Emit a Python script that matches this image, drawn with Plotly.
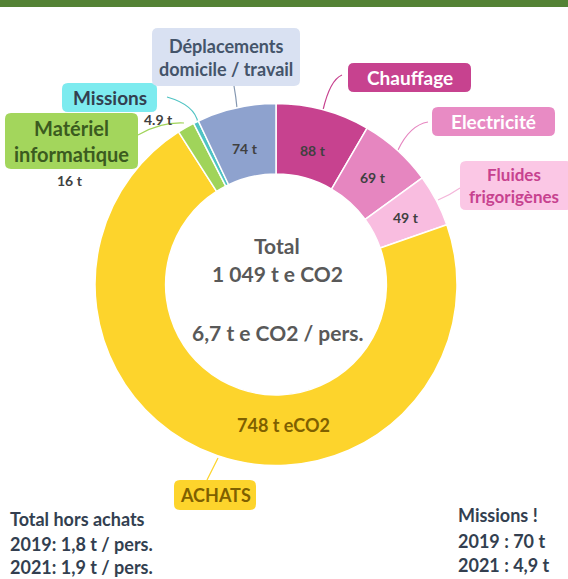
import plotly.graph_objects as go

W, H = 568, 579

# ---- data ----
categories = ["Chauffage", "Electricité", "Fluides frigorigènes", "Achats",
              "Matériel informatique", "Missions", "Déplacements domicile / travail"]
values = [88, 69, 49, 748, 16, 4.9, 74]
value_labels = ["88 t", "69 t", "49 t", "748 t eCO2", "16 t", "4.9 t", "74 t"]
callout_labels = ["Chauffage", "Electricité", "Fluides<br>frigorigènes", "ACHATS",
                  "Matériel<br>informatique", "Missions", "Déplacements<br>domicile / travail"]
center_lines = ["Total", "1 049 t e CO2", "6,7 t e CO2 / pers."]
left_note = ["Total hors achats", "2019: 1,8 t / pers.", "2021: 1,9 t / pers."]
right_note = ["Missions !", "2019 : 70 t", "2021 : 4,9 t"]

# ---- styles ----
slice_colors = ["#C7428F", "#E686C0", "#F9BDE0", "#FDD42C", "#A0D45A", "#4FC3C3", "#8EA2CE"]
box_fill = ["#C7428F", "#E88BC4", "#FBC7E5", "#FDD42C", "#A3D65C", "#7DEBEF", "#D9E1F2"]
box_text = ["#FFFFFF", "#FFFFFF", "#C7428F", "#7F6000", "#3B5B1F", "#333F50", "#44546A"]
box_font = [19, 19, 17, 18, 20, 19, 18]
line_col = ["#C7428F", "#E686C0", "#F4B6DA", "#FDD42C", "#A0D45A", "#4FC3C3", "#8497B0"]
value_text_col = ["#404040", "#404040", "#404040", "#7F6000", "#404040", "#404040", "#404040"]
value_font = [14, 14, 14, 18, 14, 14, 14]
FONT = "Lato"

def px(x):
    return x / W

def py(y):
    return 1 - y / H

def P(x, y):
    return f"{px(x):.5f},{py(y):.5f}"

def rounded_rect(x0, y0, x1, y1, r=6):
    return (f"M {P(x0 + r, y0)} L {P(x1 - r, y0)} Q {P(x1, y0)} {P(x1, y0 + r)} "
            f"L {P(x1, y1 - r)} Q {P(x1, y1)} {P(x1 - r, y1)} L {P(x0 + r, y1)} "
            f"Q {P(x0, y1)} {P(x0, y1 - r)} L {P(x0, y0 + r)} Q {P(x0, y0)} {P(x0 + r, y0)} Z")

cx, cy, R = 276, 284.5, 181
fig = go.Figure(go.Pie(
    labels=categories, values=values, sort=False, direction="clockwise", rotation=0,
    hole=0.61, textinfo="none", hoverinfo="label+value",
    marker=dict(colors=slice_colors, line=dict(color="white", width=1.5)),
    domain=dict(x=[px(cx - R), px(cx + R)], y=[py(cy + R), py(cy - R)]),
    showlegend=False,
))

shapes = []
annotations = []

# top green band
shapes.append(dict(type="rect", xref="paper", yref="paper", x0=0, x1=1, y0=py(7), y1=1,
                   fillcolor="#548235", line=dict(width=0), layer="above"))

# callout boxes (x0, y0, x1, y1) in pixels, and leader curves
boxes = [(348, 63, 471, 92), (432, 107, 555, 136), (460, 161, 572, 210), (174, 480, 256, 510),
         (5, 113, 138, 169), (62, 83, 157, 112), (152, 28, 300, 86)]
leaders = [((342, 75), (330, 80), (323, 110)),
           ((428, 122), (410, 125), (398, 150)),
           ((460, 188), (450, 195), (438, 200)),
           ((207, 480), (212, 470), (218, 458)),
           ((138, 135), (160, 122), (184, 123)),
           ((167, 97), (195, 105), (198, 123)),
           ((234, 86), (236, 97), (237, 108))]
for i in range(len(categories)):
    x0, y0, x1, y1 = boxes[i]
    shapes.append(dict(type="path", xref="paper", yref="paper", path=rounded_rect(x0, y0, x1, y1),
                       fillcolor=box_fill[i], line=dict(width=0), layer="above"))
    a, c, b = leaders[i]
    shapes.append(dict(type="path", xref="paper", yref="paper",
                       path=f"M {P(*a)} Q {P(*c)} {P(*b)}",
                       line=dict(color=line_col[i], width=1.2), layer="below"))
    annotations.append(dict(xref="paper", yref="paper", x=px((x0 + x1) / 2 if i != 2 else 514),
                            y=py((y0 + y1) / 2), text=callout_labels[i], showarrow=False,
                            xanchor="center", yanchor="middle", align="center",
                            font=dict(family=FONT, size=box_font[i], color=box_text[i],
                                      weight="bold")))

# value labels
value_pos = [(313, 150), (373, 177), (406, 218), (283, 425), (70, 180), (158, 119), (245, 148)]
for i, (x, y) in enumerate(value_pos):
    annotations.append(dict(xref="paper", yref="paper", x=px(x), y=py(y), text=value_labels[i],
                            showarrow=False, xanchor="center", yanchor="middle",
                            font=dict(family=FONT, size=value_font[i],
                                      color=value_text_col[i], weight="bold")))

# center text
for txt, y in zip(center_lines, [245, 273, 332]):
    annotations.append(dict(xref="paper", yref="paper", x=px(277), y=py(y), text=txt,
                            showarrow=False, xanchor="center", yanchor="middle",
                            font=dict(family=FONT, size=21, color="#595959", weight="bold")))

# bottom notes
for txt, y in zip(left_note, [519, 544, 567]):
    annotations.append(dict(xref="paper", yref="paper", x=px(8), y=py(y), text=txt,
                            showarrow=False, xanchor="left", yanchor="middle",
                            font=dict(family=FONT, size=18, color="#333F50", weight="bold")))
for txt, y in zip(right_note, [515, 541, 565]):
    annotations.append(dict(xref="paper", yref="paper", x=px(456), y=py(y), text=txt,
                            showarrow=False, xanchor="left", yanchor="middle",
                            font=dict(family=FONT, size=18, color="#333F50", weight="bold")))

fig.update_layout(width=W, height=H, margin=dict(l=0, r=0, t=0, b=0),
                  paper_bgcolor="white", plot_bgcolor="white",
                  shapes=shapes, annotations=annotations)
fig.write_html("out.html", config={"displayModeBar": False},
               post_script="document.body.style.margin='0';document.body.style.overflow='hidden';")
